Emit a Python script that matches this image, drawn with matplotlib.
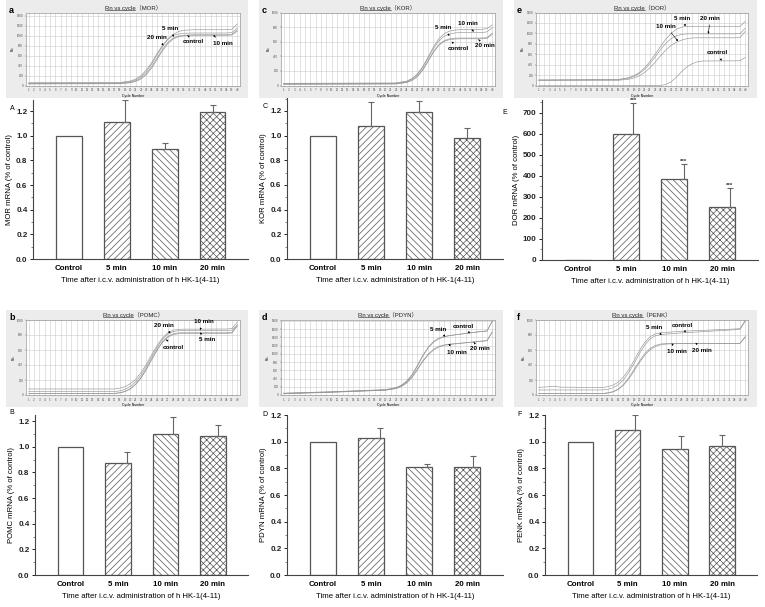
import numpy as np
import matplotlib
matplotlib.use('Agg')
import matplotlib.pyplot as plt
from matplotlib.patches import Rectangle
from matplotlib.lines import Line2D
from matplotlib.ticker import MultipleLocator

plt.rcParams.update({'font.family': ['Liberation Sans', 'Noto Sans CJK SC', 'DejaVu Sans'],
                     'font.weight': 'bold', 'hatch.linewidth': 0.5})

W, H = 765, 607

# ── bar data (relative mRNA, mean and SEM) ──
groups = ['Control', '5 min', '10 min', '20 min']
mor_mean = [1.0, 1.11, 0.89, 1.19]
mor_err = [0, 0.18, 0.05, 0.06]
kor_mean = [1.0, 1.08, 1.19, 0.98]
kor_err = [0, 0.19, 0.09, 0.08]
dor_mean = [1, 600, 385, 253]
dor_err = [0, 145, 70, 87]
pomc_mean = [1.0, 0.875, 1.10, 1.085]
pomc_err = [0, 0.08, 0.135, 0.085]
pdyn_mean = [1.0, 1.025, 0.81, 0.81]
pdyn_err = [0, 0.08, 0.025, 0.08]
penk_mean = [1.0, 1.085, 0.945, 0.965]
penk_err = [0, 0.115, 0.095, 0.085]

# ── amplification curves (Rn) ──
cyc_a = [1, 18, 20, 21, 22, 23, 24, 25, 26, 27, 28, 29, 30, 32, 38, 39, 40]
mor_20 = [55, 60, 90, 130, 200, 310, 460, 640, 800, 930, 1000, 1030, 1045, 1050, 1050, 1060, 1150]
mor_5 = [45, 50, 75, 110, 175, 280, 430, 610, 780, 920, 1020, 1080, 1105, 1115, 1115, 1125, 1230]
mor_c = [35, 40, 60, 90, 145, 240, 380, 550, 720, 860, 950, 990, 1005, 1015, 1015, 1025, 1110]
mor_10 = [30, 35, 55, 80, 130, 220, 350, 520, 690, 835, 930, 975, 995, 1005, 1005, 1010, 1090]

cyc_c = [1, 22, 24, 25, 26, 27, 28, 29, 30, 31, 32, 33, 34, 38, 39, 40]
kor_10 = [30, 35, 60, 95, 160, 260, 390, 530, 640, 710, 745, 760, 765, 770, 780, 830]
kor_5 = [25, 30, 55, 90, 150, 250, 375, 505, 610, 675, 705, 720, 725, 725, 735, 790]
kor_c = [20, 25, 45, 75, 130, 220, 340, 465, 560, 615, 640, 648, 650, 650, 655, 720]
kor_20 = [15, 20, 40, 70, 120, 210, 330, 455, 550, 605, 628, 637, 640, 640, 645, 700]

cyc_e = [1, 16, 18, 19, 20, 21, 22, 23, 24, 25, 26, 27, 28, 29, 30, 31, 32, 38, 39, 40]
dor_5 = [105, 115, 150, 190, 250, 340, 460, 600, 750, 890, 1000, 1080, 1120, 1135, 1135, 1135, 1135, 1135, 1135, 1230]
dor_20 = [105, 110, 140, 175, 230, 310, 420, 550, 690, 810, 900, 955, 980, 990, 990, 990, 990, 990, 995, 1100]
dor_10 = [100, 100, 120, 145, 185, 250, 340, 450, 570, 680, 770, 830, 870, 900, 912, 915, 915, 915, 920, 1040]
dor_c = [0, 0, 0, 0, 0, 0, 0, 0, 0, 20, 70, 160, 270, 360, 420, 455, 470, 473, 475, 540]

cyc_b = [1, 17, 18, 19, 20, 21, 22, 23, 24, 25, 26, 27, 28, 29, 30, 32, 38, 39, 40]
pomc_20 = [80, 80, 90, 110, 150, 210, 300, 410, 540, 660, 760, 830, 865, 875, 878, 878, 880, 885, 975]
pomc_10 = [45, 45, 55, 75, 115, 175, 265, 380, 510, 635, 740, 810, 845, 857, 860, 860, 860, 865, 930]
pomc_5 = [22, 22, 30, 48, 85, 145, 235, 350, 480, 605, 710, 780, 815, 828, 830, 830, 830, 835, 935]
pomc_c = [20, 20, 28, 45, 80, 140, 225, 340, 470, 595, 700, 770, 805, 818, 822, 822, 822, 826, 920]

cyc_d = [1, 10, 20, 22, 23, 24, 25, 26, 27, 28, 29, 30, 31, 32, 35, 38, 39, 40]
pdyn_5 = [45, 80, 130, 180, 240, 340, 500, 720, 960, 1160, 1300, 1380, 1420, 1445, 1490, 1540, 1550, 1800]
pdyn_c = [40, 75, 125, 170, 230, 325, 480, 700, 940, 1140, 1280, 1365, 1410, 1440, 1495, 1545, 1555, 1790]
pdyn_10 = [35, 70, 120, 160, 210, 300, 440, 630, 830, 990, 1110, 1180, 1215, 1235, 1270, 1310, 1320, 1540]
pdyn_20 = [30, 65, 115, 155, 205, 290, 425, 610, 810, 970, 1090, 1165, 1205, 1225, 1265, 1305, 1315, 1520]

cyc_f = [1, 3, 4, 5, 13, 14, 15, 16, 17, 18, 19, 20, 21, 22, 23, 24, 25, 26, 28, 38, 39, 40]
penk_5 = [102, 110, 118, 105, 100, 110, 130, 170, 240, 340, 460, 590, 700, 775, 815, 830, 835, 840, 850, 880, 885, 1000]
penk_c = [67, 67, 68, 67, 67, 75, 95, 135, 200, 300, 420, 550, 665, 745, 790, 805, 812, 818, 828, 870, 875, 985]
penk_10 = [22, 22, 22, 22, 22, 28, 45, 80, 140, 230, 340, 450, 550, 620, 660, 680, 686, 688, 689, 689, 690, 780]
penk_20 = [20, 20, 20, 20, 20, 25, 40, 72, 130, 215, 320, 430, 530, 600, 645, 668, 678, 683, 686, 688, 690, 770]

fig = plt.figure(figsize=(W / 100, H / 100), dpi=100)


def px(x0, y0, x1, y1):
    return [x0 / W, 1 - y1 / H, (x1 - x0) / W, (y1 - y0) / H]


# ── amplification screenshots ──
def amp_panel(box, bg, letter, gene, cyc, curves, ymax, ystep, notes):
    fig.patches.append(Rectangle((bg[0] / W, 1 - bg[3] / H), (bg[2] - bg[0]) / W,
                                 (bg[3] - bg[1]) / H, transform=fig.transFigure,
                                 facecolor='#ececec', edgecolor='none', zorder=-5))
    ax = fig.add_axes(px(*box))
    for ys in curves:
        ax.plot(cyc, ys, color='#959595', lw=0.45)
    ax.set_xlim(0.5, 40.5)
    ax.set_ylim(0, ymax)
    ax.set_xticks(range(1, 41))
    ax.set_xticklabels([str(i) for i in range(1, 41)], fontsize=2.2, fontweight='normal')
    yt = np.arange(0, ymax + 1, ystep)
    ax.set_yticks(yt)
    ax.set_yticklabels([str(int(v)) for v in yt], fontsize=2.2, fontweight='normal')
    ax.tick_params(length=1, width=0.3, pad=1, colors='#555555')
    ax.grid(True, color='#cccccc', lw=0.4)
    for s in ax.spines.values():
        s.set_color('#999999'); s.set_linewidth(0.5)
    ax.set_xlabel('Cycle Number', fontsize=2.5, labelpad=1, fontweight='normal')
    ax.set_ylabel('Rn', fontsize=2.5, labelpad=1, fontweight='normal')
    t = ax.text(0.5, 1.025, 'Rn vs cycle（' + gene + '）', transform=ax.transAxes,
                ha='center', va='bottom', fontsize=4.3, color='#222222', fontweight='normal')
    for txt, xy, xyt in notes:
        ax.annotate(txt, xy=xy, xytext=xyt, fontsize=4.5, fontweight='bold',
                    ha='center', va='center',
                    arrowprops=dict(arrowstyle='-|>', lw=0.4, color='k',
                                    mutation_scale=2.5, shrinkA=1, shrinkB=0))
    fig.text((bg[0] + 3) / W, 1 - (box[1] - 2) / H, letter, fontsize=6.5,
             fontweight='bold', va='center')
    return ax, t


amps = []
amps.append(amp_panel((26, 12.5, 240, 85.5), (6, 0, 248, 98), 'a', 'MOR', cyc_a,
                      [mor_20, mor_5, mor_c, mor_10], 1460, 200,
                      [('5 min', (28.1, 974), (27.5, 1135)),
                       ('20 min', (26.2, 800), (25.0, 961)),
                       ('control', (30.7, 1006), (31.7, 877)),
                       ('10 min', (35.5, 1006), (37.3, 839))]))
amps.append(amp_panel((281, 12.5, 495, 85.5), (259, 0, 503, 98), 'c', 'KOR', cyc_c,
                      [kor_10, kor_5, kor_c, kor_20], 1000, 200,
                      [('10 min', (36.5, 735), (35.4, 856)),
                       ('5 min', (32.0, 680), (30.8, 790)),
                       ('control', (32.4, 601), (33.7, 507)),
                       ('20 min', (37.4, 632), (38.6, 543))]))
amps.append(amp_panel((536, 12.5, 748, 85.5), (514, 0, 757, 98), 'e', 'DOR', cyc_e,
                      [dor_5, dor_20, dor_10, dor_c], 1400, 200,
                      [('5 min', (28.7, 1135), (28.1, 1293)),
                       ('20 min', (33.0, 990), (33.4, 1293)),
                       ('10 min', (27.3, 850), (25.0, 1135)),
                       ('control', (35.5, 473), (34.8, 631))]))
amps.append(amp_panel((26, 320, 240, 395), (6, 310, 248, 407), 'b', 'POMC', cyc_b,
                      [pomc_20, pomc_10, pomc_5, pomc_c], 1000, 200,
                      [('20 min', (27.5, 822), (26.2, 933)),
                       ('10 min', (33.0, 867), (33.8, 978)),
                       ('5 min', (33.0, 831), (34.4, 742)),
                       ('control', (26.7, 742), (28.1, 636))]))
amps.append(amp_panel((281, 320, 495, 395), (259, 310, 503, 407), 'd', 'PDYN', cyc_d,
                      [pdyn_5, pdyn_c, pdyn_10, pdyn_20], 1820, 200,
                      [('5 min', (31.2, 1416), (29.8, 1600)),
                       ('control', (35.8, 1496), (34.6, 1664)),
                       ('10 min', (31.8, 1240), (33.4, 1040)),
                       ('20 min', (36.5, 1280), (37.7, 1120))]))
amps.append(amp_panel((536, 320, 748, 395), (514, 310, 757, 407), 'f', 'PENK', cyc_f,
                      [penk_5, penk_c, penk_10, penk_20], 1000, 200,
                      [('5 min', (24.2, 800), (22.8, 902)),
                       ('control', (28.7, 831), (28.1, 933)),
                       ('10 min', (26.1, 689), (27.1, 578)),
                       ('20 min', (30.6, 698), (31.8, 600))]))

# ── bar charts ──
hatches = ['', '/////', '\\\\\\\\\\', 'xxxxx']
x = np.arange(len(groups))


def bar_panel(box, letter, lpos, gene, means, errs, ylim, major, minor, eoff, stars=False):
    ax = fig.add_axes(px(*box))
    for i in range(len(groups)):
        ax.bar(x[i], means[i], width=0.54, facecolor='white', edgecolor='#555555',
               hatch=hatches[i], linewidth=0.9, zorder=2)
        if errs[i] > 0:
            ax.errorbar(x[i] + eoff[i], means[i], yerr=[[0], [errs[i]]], fmt='none',
                        ecolor='#666666', elinewidth=0.8, capsize=2, capthick=0.8, zorder=3)
            if stars:
                ax.text(x[i] + eoff[i], means[i] + errs[i], '***', ha='center',
                        va='bottom', fontsize=4.5, color='#333333')
    ax.set_xlim(-0.75, 3.74)
    ax.set_ylim(0, ylim)
    ax.yaxis.set_major_locator(MultipleLocator(major))
    ax.yaxis.set_minor_locator(MultipleLocator(minor))
    if major < 1:
        ax.yaxis.set_major_formatter(lambda v, p: f'{v:.1f}')
    ax.set_xticks(x)
    ax.set_xticklabels(groups, fontsize=5.7)
    ax.tick_params(axis='x', length=0, pad=4)
    ax.tick_params(axis='y', which='major', length=2.5, width=0.7, pad=1.5, labelsize=5.8,
                   colors='#222222')
    ax.tick_params(axis='y', which='minor', length=1.5, width=0.5, colors='#555555')
    for s in ['top', 'right']:
        ax.spines[s].set_visible(False)
    for s in ['left', 'bottom']:
        ax.spines[s].set_color('#444444'); ax.spines[s].set_linewidth(0.8)
    ax.set_ylabel(gene + ' mRNA (% of control)', fontsize=5.6, labelpad=2)
    ax.set_xlabel('Time after i.c.v. administration of h HK-1(4-11)', fontsize=5.6,
                  labelpad=4)
    fig.text(lpos[0] / W, 1 - lpos[1] / H, letter, fontsize=5, va='center', ha='center',
             fontweight='normal')
    return ax


bar_panel((33, 100, 248, 259), 'A', (12, 108), 'MOR', mor_mean, mor_err, 1.29, 0.2, 0.1,
          [0, 0.18, 0, 0])
bar_panel((287, 98, 503, 259), 'C', (265, 107), 'KOR', kor_mean, kor_err, 1.305, 0.2, 0.1,
          [0, 0, 0, 0])
bar_panel((542, 100, 758, 260), 'E', (505, 113), 'DOR', dor_mean, dor_err, 760, 100, 50,
          [0, 0.15, 0.2, 0.15], stars=True)
bar_panel((35, 415, 248, 575), 'B', (12, 413), 'POMC', pomc_mean, pomc_err, 1.247, 0.2, 0.1,
          [0, 0.18, 0.15, 0.1])
bar_panel((287, 415, 503, 575), 'D', (265, 415), 'PDYN', pdyn_mean, pdyn_err, 1.2, 0.2, 0.1,
          [0, 0.18, 0.17, 0.12])
bar_panel((545, 415, 757, 575), 'F', (520, 415), 'PENK', penk_mean, penk_err, 1.2, 0.2, 0.1,
          [0, 0.15, 0.13, 0])

# underline "Rn vs cycle" in each screenshot title
fig.canvas.draw()
r = fig.canvas.get_renderer()
for ax, t in amps:
    bb = t.get_window_extent(r)
    probe = fig.text(0, 0, 'Rn vs cycle', fontsize=4.3, fontweight='normal')
    w1 = probe.get_window_extent(r).width
    probe.remove()
    y = bb.y0 + 0.8
    fig.add_artist(Line2D([bb.x0 / fig.bbox.width, (bb.x0 + w1) / fig.bbox.width],
                          [y / fig.bbox.height] * 2, transform=fig.transFigure,
                          color='#222222', lw=0.4))

fig.savefig('out.png', dpi=100)
